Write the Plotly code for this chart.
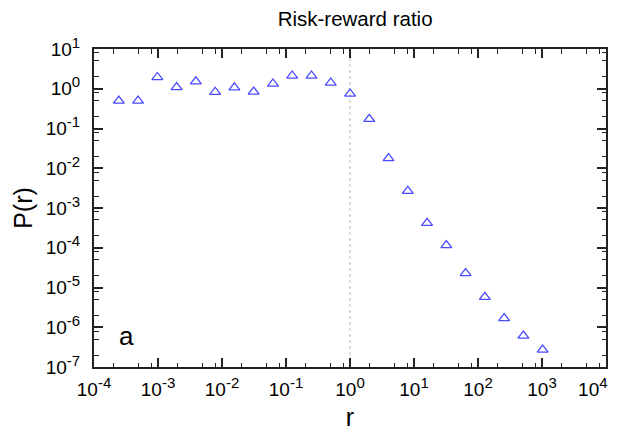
import plotly.graph_objects as go

# Data (log-binned, bins at powers of 2)
r_values = [2**k for k in range(-12, 11)]
p_values = [0.497, 0.497, 1.95, 1.09, 1.52, 0.83, 1.07, 0.84, 1.34, 2.13, 2.13, 1.42, 0.75,
            0.173, 0.0178, 2.68e-3, 4.2e-4, 1.15e-4, 2.28e-5, 5.77e-6, 1.68e-6, 6.1e-7, 2.71e-7]

x_exponents = list(range(-4, 5))
y_exponents = list(range(-7, 2))
x_major = [10.0**e for e in x_exponents]
y_major = [10.0**e for e in y_exponents]
x_minor = [m * 10.0**e for e in range(-4, 4) for m in (2, 5, 8)]
y_minor = [m * 10.0**e for e in range(-7, 1) for m in (2, 5, 8)]

threshold = 1.0
title_text = "Risk-reward ratio"
panel_label = "a"

FONT = "Liberation Sans, Arial, Helvetica, sans-serif"
AXC = "#222222"


def power_label(e, pad=""):
    return "10<sup><span style='font-size:15px'>%d</span></sup>%s" % (e, pad)


x_ticktext = [power_label(e) for e in x_exponents]
x_ticktext[-1] = power_label(x_exponents[-1], "&nbsp;&nbsp;&nbsp;&nbsp;&nbsp;")
y_ticktext = [power_label(e) for e in y_exponents]

fig = go.Figure()
fig.add_trace(go.Scatter(
    x=r_values, y=p_values, mode="markers",
    marker=dict(symbol="triangle-up-open", size=9.5, color="#4a4aff",
                line=dict(width=1.3, color="#4a4aff")),
    showlegend=False,
))

axis_common = dict(
    type="log", showgrid=False, zeroline=False, automargin=False,
    showline=True, linecolor=AXC, linewidth=2,
    mirror="allticks", ticks="inside", ticklen=9, tickwidth=1.6, tickcolor=AXC,
    tickfont=dict(family=FONT, size=19, color="black"),
    ticklabeloverflow="allow",
    minor=dict(ticks="inside", ticklen=4.5, tickwidth=1.3, tickcolor=AXC, showgrid=False),
)

fig.update_xaxes(
    **axis_common, range=[-4, 4], tickmode="array", tickvals=x_major, ticktext=x_ticktext,
    ticklabelstandoff=4,
    title=dict(text="r", font=dict(family=FONT, size=25, color="black"), standoff=10),
)
fig.update_xaxes(minor_tickvals=x_minor)
fig.update_yaxes(
    **axis_common, range=[-7, 1], tickmode="array", tickvals=y_major, ticktext=y_ticktext,
    ticklabelstandoff=8,
    title=dict(text="P(r)", font=dict(family=FONT, size=25, color="black"), standoff=6),
)
fig.update_yaxes(minor_tickvals=y_minor)

fig.add_shape(type="line", xref="x", yref="paper", x0=threshold, x1=threshold, y0=0, y1=1,
              line=dict(color="#bbbbbb", width=1, dash="dot"), layer="below")

fig.add_annotation(text=panel_label, xref="paper", yref="paper", x=0.0625, y=0.097,
                   xanchor="center", yanchor="middle",
                   showarrow=False, font=dict(family=FONT, size=26, color="black"))

# The page body adds an 8px offset; the figure is sized so it fits the 624x434 window.
fig.update_layout(
    width=616, height=426,
    margin=dict(l=86, r=18, t=41, b=67),
    paper_bgcolor="white", plot_bgcolor="white",
    title=dict(text=title_text, xref="paper", x=0.51, xanchor="center",
               yref="container", y=0.974, yanchor="middle",
               font=dict(family=FONT, size=20.5, color="black")),
)

fig.write_html("out.html")
